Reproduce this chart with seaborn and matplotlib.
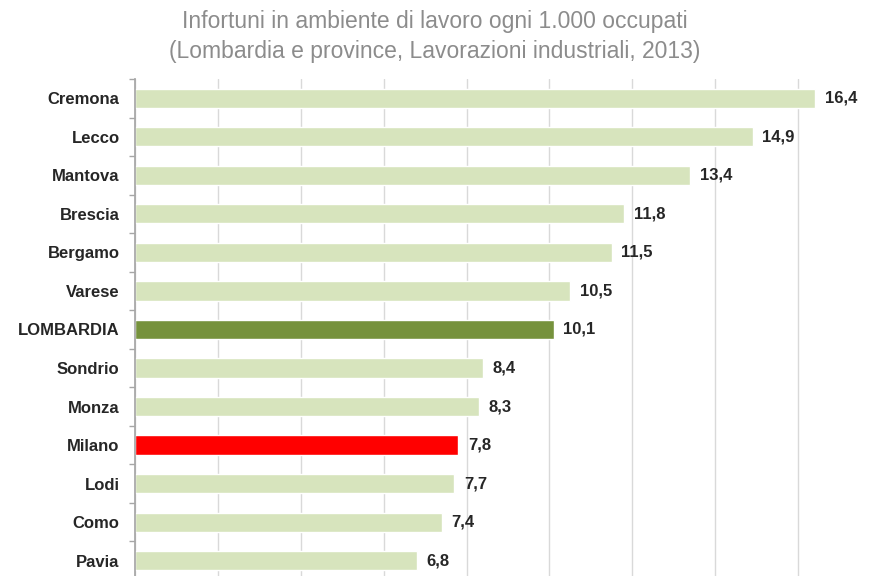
import matplotlib
matplotlib.use("Agg")
import matplotlib.pyplot as plt
import numpy as np
import pandas as pd
import seaborn as sns

province = ["Cremona", "Lecco", "Mantova", "Brescia", "Bergamo", "Varese", "LOMBARDIA",
            "Sondrio", "Monza", "Milano", "Lodi", "Como", "Pavia"]
infortuni = [16.4, 14.9, 13.4, 11.8, 11.5, 10.5, 10.1, 8.4, 8.3, 7.8, 7.7, 7.4, 6.8]

light_green = "#d7e4bd"
colori = {p: light_green for p in province}
colori["LOMBARDIA"] = "#76923c"
colori["Milano"] = "#ff0000"

df = pd.DataFrame({"provincia": province, "valore": infortuni})

sns.set_theme(style="white")
plt.rcParams["font.family"] = ["Liberation Sans", "DejaVu Sans"]

fig = plt.figure(figsize=(8.7, 5.76), dpi=100)
ax = fig.add_axes([0.155, -0.0069, 0.845, 0.8698])

sns.barplot(data=df, x="valore", y="provincia", hue="provincia", palette=colori,
            order=province, hue_order=province, orient="h", width=0.5,
            saturation=1, legend=False, ax=ax, zorder=3)

ax.set_xlim(0, 17.73)
ax.set_ylim(12.5, -0.5)
ax.set_xticks(np.arange(0, 18, 2))
ax.set_xticklabels([])
ax.tick_params(axis="x", length=0)
ax.grid(axis="x", color="#d9d9d9", linewidth=1, zorder=0)
ax.grid(axis="y", visible=False)
ax.set_axisbelow(True)

ax.set_yticks(range(len(province)))
ax.set_yticklabels(province, fontsize=12, fontweight="bold", color="#262626")
ax.set_yticks(np.arange(-0.5, len(province), 1), minor=True)
ax.tick_params(axis="y", which="major", length=0, pad=11)
ax.tick_params(axis="y", which="minor", length=4, color="#a6a6a6", width=1, left=True)
ax.set_xlabel("")
ax.set_ylabel("")

for side in ["top", "right", "bottom"]:
    ax.spines[side].set_visible(False)
ax.spines["left"].set_color("#a6a6a6")
ax.spines["left"].set_zorder(4)

for cont in ax.containers:
    ax.bar_label(cont, labels=[f"{v:.1f}".replace(".", ",") for v in cont.datavalues],
                 padding=7, fontsize=12, fontweight="bold", color="#262626")

fig.text(0.5, 0.963, "Infortuni in ambiente di lavoro ogni 1.000 occupati",
         ha="center", va="center", fontsize=16.5, color="#8c8c8c")
fig.text(0.5, 0.911, "(Lombardia e province, Lavorazioni industriali, 2013)",
         ha="center", va="center", fontsize=16.5, color="#8c8c8c")

fig.savefig("out.png", dpi=100)
